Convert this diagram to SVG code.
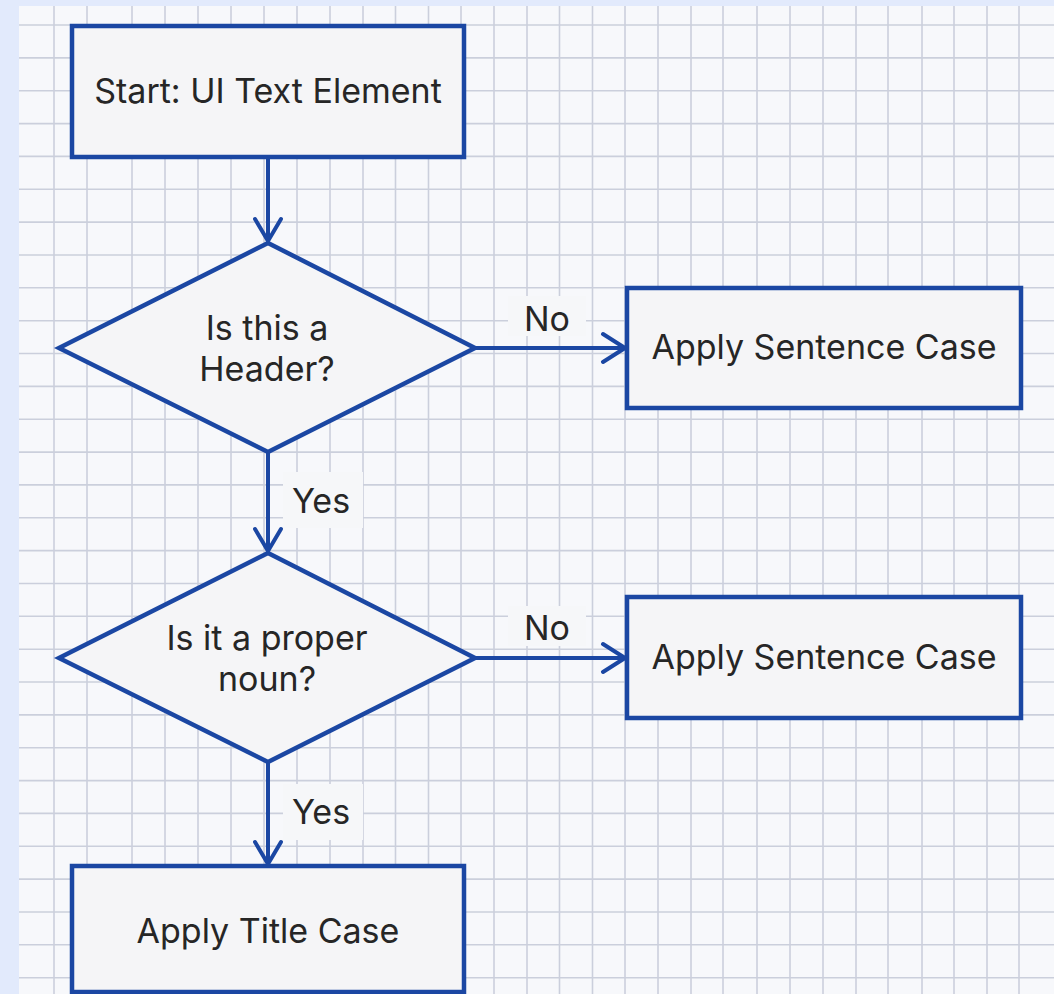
<svg xmlns="http://www.w3.org/2000/svg" width="1054" height="994" viewBox="0 0 1054 994">
<defs>
<style>
.node{fill:#f5f5f7;stroke:#1b47a3;stroke-width:4.5;stroke-linejoin:miter}
.t{font-family:Inter,"Liberation Sans",sans-serif;font-size:34px;fill:#262626;text-anchor:middle}
.edge{fill:none;stroke:#1b47a3;stroke-width:4;stroke-linecap:round;stroke-linejoin:round}
.lblbg{fill:#f6f7f9}
.grid{stroke:#cbcfdc;stroke-width:1.6;fill:none}
</style>
</defs>
<rect x="0" y="0" width="1054" height="994" fill="#e2eafc"/>
<rect x="19" y="6" width="1035" height="988" fill="#f7f8fb"/>
<path class="grid" d="M54 6V994M87 6V994M132 6V994M165 6V994M198 6V994M231 6V994M264 6V994M297 6V994M330 6V994M363 6V994M395.5 6V994M428.5 6V994M461 6V994M494 6V994M527 6V994M559.5 6V994M592.5 6V994M625 6V994M658 6V994M691 6V994M723 6V994M757 6V994M790 6V994M823 6V994M856 6V994M888 6V994M922 6V994M954 6V994M987 6V994M1019 6V994
M19 25H1054M19 57.9H1054M19 90.7H1054M19 123.6H1054M19 156.4H1054M19 189.3H1054M19 222.1H1054M19 255H1054M19 287.8H1054M19 320.7H1054M19 353.5H1054M19 386.4H1054M19 419.2H1054M19 452.1H1054M19 484.9H1054M19 517.8H1054M19 550.6H1054M19 583.5H1054M19 616.3H1054M19 649.2H1054M19 682H1054M19 714.9H1054M19 747.7H1054M19 780.6H1054M19 813.4H1054M19 846.3H1054M19 879.1H1054M19 912H1054M19 944.8H1054M19 977.7H1054"/>

<g id="edges">
<path class="edge" d="M268 157V241M255 219L268 241L281 219"/>
<path class="edge" d="M475 348H625M603 334L625 348L603 362"/>
<path class="edge" d="M268 452V551M255 529L268 551L281 529"/>
<path class="edge" d="M475 658H625M603 644L625 658L603 672"/>
<path class="edge" d="M268 762V864M255 842L268 864L281 842"/>
<g id="edge-labels">
<rect class="lblbg" x="508" y="296" width="78" height="40"/>
<text class="t" x="547" y="331">No</text>
<rect class="lblbg" x="283" y="472" width="80" height="56"/>
<text class="t" x="321" y="513">Yes</text>
<rect class="lblbg" x="508" y="606" width="78" height="40"/>
<text class="t" x="547" y="640">No</text>
<rect class="lblbg" x="283" y="784" width="80" height="56"/>
<text class="t" x="321" y="824">Yes</text>
</g>
</g>

<g id="start">
<rect class="node" x="72" y="26" width="392" height="131"/>
<text class="t" x="268" y="103">Start: UI Text Element</text>
</g>
<g id="is-header">
<polygon class="node" points="268,243 475,348 268,452 59,348"/>
<text class="t" x="267" y="340">Is this a</text>
<text class="t" x="267" y="381">Header?</text>
</g>
<g id="sentence-case-1">
<rect class="node" x="627" y="288" width="394" height="120"/>
<text class="t" x="824" y="359">Apply Sentence Case</text>
</g>
<g id="is-proper-noun">
<polygon class="node" points="268,553 475,658 268,762 59,658"/>
<text class="t" x="267" y="650">Is it a proper</text>
<text class="t" x="267" y="691">noun?</text>
</g>
<g id="sentence-case-2">
<rect class="node" x="627" y="597" width="394" height="121"/>
<text class="t" x="824" y="669">Apply Sentence Case</text>
</g>
<g id="title-case">
<rect class="node" x="72" y="866" width="392" height="126"/>
<text class="t" x="268" y="943">Apply Title Case</text>
</g>
</svg>
